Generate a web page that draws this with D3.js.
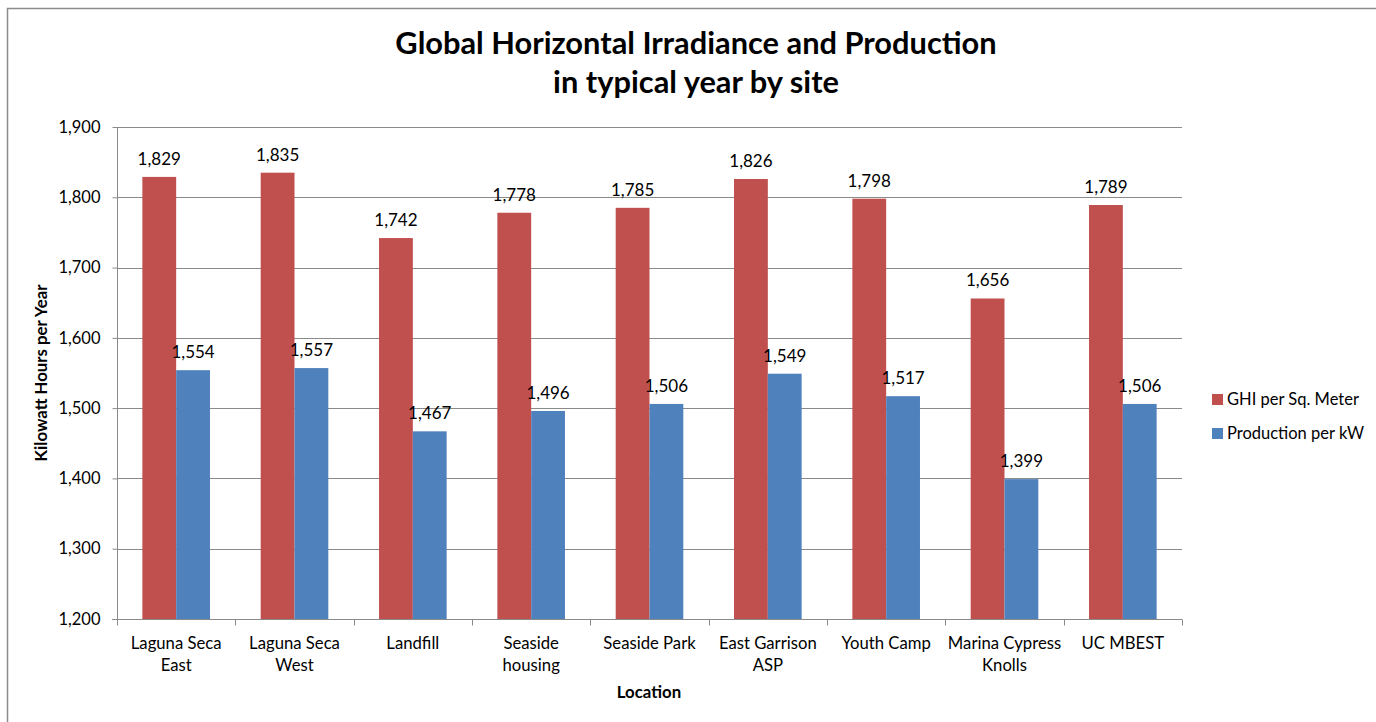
<!DOCTYPE html>
<html>
<head>
<meta charset="utf-8">
<script src="https://cdn.jsdelivr.net/npm/d3@7"></script>
<style>
  html, body { margin: 0; padding: 0; background: #fff; }
  svg { display: block; }
  text { font-family: Lato, "Open Sans", sans-serif; fill: #000; }
</style>
</head>
<body>
<svg id="chart" width="1376" height="722"></svg>
<script>
const categories = [
  ["Laguna Seca", "East"],
  ["Laguna Seca", "West"],
  ["Landfill"],
  ["Seaside", "housing"],
  ["Seaside Park"],
  ["East Garrison", "ASP"],
  ["Youth Camp"],
  ["Marina Cypress", "Knolls"],
  ["UC MBEST"]
];
const ghiValues = [1829, 1835, 1742, 1778, 1785, 1826, 1798, 1656, 1789];
const productionValues = [1554, 1557, 1467, 1496, 1506, 1549, 1517, 1399, 1506];
const seriesNames = ["GHI per Sq. Meter", "Production per kW"];
const yTicks = [1200, 1300, 1400, 1500, 1600, 1700, 1800, 1900];
const titleLines = ["Global Horizontal Irradiance and Production", "in typical year by site"];
const yAxisTitle = "Kilowatt Hours per Year";
const xAxisTitle = "Location";

const colors = ["#C0504D", "#4F81BD"];
const svg = d3.select("#chart");

// outer chart border
svg.append("rect")
  .attr("x", 7.5).attr("y", 8.5)
  .attr("width", 1400).attr("height", 800)
  .attr("fill", "none").attr("stroke", "#8c8c8c").attr("stroke-width", 1.5);

const plot = { left: 117, right: 1182, top: 127, bottom: 619 };

const keys = categories.map((c, i) => i);
const x = d3.scaleBand().domain(keys).range([plot.left, plot.right]).paddingInner(0).paddingOuter(0);
const bw = x.bandwidth() / 3.5;
const y = d3.scaleLinear().domain([1200, 1900]).range([plot.bottom, plot.top]);

// gridlines
svg.append("g").selectAll("line").data(yTicks.slice(1)).join("line")
  .attr("x1", plot.left).attr("x2", plot.right)
  .attr("y1", d => Math.round(y(d)) + 0.5).attr("y2", d => Math.round(y(d)) + 0.5)
  .attr("stroke", "#8a8a8a").attr("stroke-width", 1);

// bars
const seriesData = [ghiValues, productionValues];
seriesData.forEach((vals, s) => {
  svg.append("g").selectAll("rect").data(vals).join("rect")
    .attr("x", (d, i) => x(i) + bw * 0.75 + s * bw)
    .attr("width", bw)
    .attr("y", d => y(d))
    .attr("height", d => y(1200) - y(d))
    .attr("fill", colors[s]);
  svg.append("g").selectAll("text").data(vals).join("text")
    .attr("x", (d, i) => x(i) + bw * 0.75 + s * bw + bw / 2)
    .attr("y", d => y(d) - 12)
    .attr("text-anchor", "middle")
    .attr("font-size", 17)
    .text(d => d3.format(",")(d));
});

// y axis
const yAxis = d3.axisLeft(y).tickValues(yTicks).tickSize(5).tickPadding(12).tickFormat(d3.format(","));
const gy = svg.append("g").attr("transform", `translate(${plot.left + 0.5},0)`).call(yAxis);
gy.selectAll("path, line").attr("stroke", "#8a8a8a");
gy.selectAll("text").attr("font-size", 16.5).attr("font-family", "Lato, sans-serif").attr("fill", "#000");
gy.select(".domain").attr("d", `M0,${plot.top}V${plot.bottom}`);

// x axis
const xAxis = d3.axisBottom(x).tickSize(0).tickFormat("");
const gx = svg.append("g").attr("transform", `translate(0,${plot.bottom + 0.5})`).call(xAxis);
gx.select(".domain").attr("stroke", "#8a8a8a").attr("d", `M${plot.left - 5},0H${plot.right}`);
gx.selectAll(".tick").remove();
// boundary ticks
const bounds = keys.map(k => x(k)).concat([x(keys[keys.length - 1]) + x.bandwidth()]);
gx.selectAll("line.btick").data(bounds).join("line").attr("class", "btick")
  .attr("x1", d => Math.round(d) + 0.5).attr("x2", d => Math.round(d) + 0.5)
  .attr("y1", 0).attr("y2", 6).attr("stroke", "#8a8a8a");

// category labels
const cl = svg.append("g").selectAll("text").data(categories).join("text")
  .attr("text-anchor", "middle")
  .attr("font-size", 16.7)
  .attr("x", (d, i) => x(i) + x.bandwidth() / 2)
  .attr("y", 649);
cl.selectAll("tspan").data(d => d).join("tspan")
  .attr("x", function() { return d3.select(this.parentNode).attr("x"); })
  .attr("dy", (d, i) => i === 0 ? 0 : 22)
  .text(d => d);

// title
svg.append("g").selectAll("text").data(titleLines).join("text")
  .attr("x", 696).attr("y", (d, i) => 54 + i * 39)
  .attr("text-anchor", "middle")
  .attr("font-size", 30.8).attr("font-weight", "bold")
  .text(d => d);

// axis titles
svg.append("text")
  .attr("transform", `translate(47,${(plot.top + plot.bottom) / 2}) rotate(-90)`)
  .attr("text-anchor", "middle").attr("font-size", 16.8).attr("font-weight", "bold")
  .text(yAxisTitle);
svg.append("text")
  .attr("x", 649).attr("y", 698)
  .attr("text-anchor", "middle").attr("font-size", 16.8).attr("font-weight", "bold")
  .text(xAxisTitle);

// legend
const lg = svg.append("g").selectAll("g").data(seriesNames).join("g")
  .attr("transform", (d, i) => `translate(1212,${394 + i * 34})`);
lg.append("rect").attr("width", 11).attr("height", 11).attr("fill", (d, i) => colors[i]);
lg.append("text").attr("x", 15).attr("y", 11).attr("font-size", 16.5).text(d => d);
</script>
</body>
</html>
